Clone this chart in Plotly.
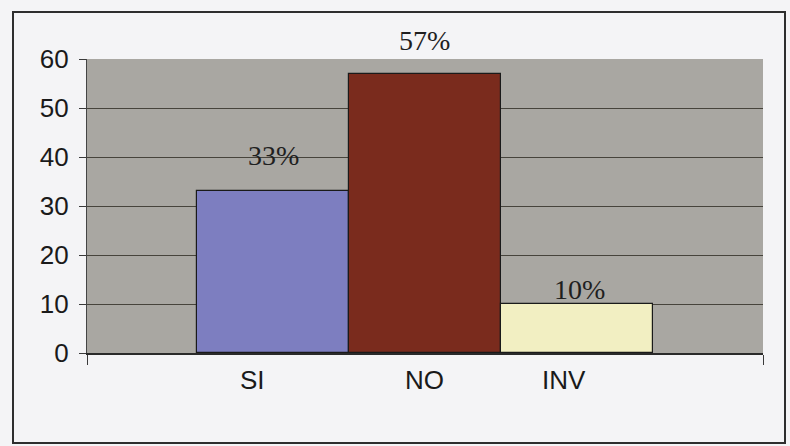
import plotly.graph_objects as go

# Survey answers and their shares (%)
categories = ["SI", "NO", "INV"]
values = [33, 57, 10]
bar_colors = ["#7d7ec0", "#7a2b1d", "#f2efc2"]
y_ticks = [0, 10, 20, 30, 40, 50, 60]

x_pos = list(range(len(categories)))
x_range = [-1.224, 3.224]

fig = go.Figure()
fig.add_trace(go.Bar(
    x=x_pos,
    y=values,
    width=1.0,
    marker=dict(color=bar_colors, line=dict(color="#1a1a1a", width=1.2)),
    hoverinfo="skip",
))

# Percentage labels above each bar (serif, as in the printed report)
label_shift = [(0, 36), (-1, 33), (3, 15)]
for i, (v, (dx, dy)) in enumerate(zip(values, label_shift)):
    fig.add_annotation(
        x=x_pos[i], y=v, text=f"{v}%", showarrow=False,
        xanchor="center", yanchor="middle", xshift=dx, yshift=dy,
        font=dict(family="Liberation Serif, Times New Roman, serif", size=28, color="#1f1f1f"),
    )

# Category names under the bars
name_shift = [-21, -1, -13]
for i, (name, dx) in enumerate(zip(categories, name_shift)):
    fig.add_annotation(
        x=x_pos[i], y=0, text=name, showarrow=False,
        xanchor="center", yanchor="middle", xshift=dx, yshift=-27,
        font=dict(family="Liberation Sans, Arial, sans-serif", size=26, color="#1a1a1a"),
    )

# Outer chart frame
pw, ph = 676, 294
fig.add_shape(
    type="rect", xref="paper", yref="paper",
    x0=(13 - 87) / pw, x1=(785 - 87) / pw,
    y0=(353 - 443) / ph, y1=(353 - 12) / ph,
    line=dict(color="#2e2e2e", width=2), fillcolor="rgba(0,0,0,0)", layer="below",
)

fig.update_layout(
    width=790, height=446,
    margin=dict(l=87, r=27, t=59, b=93),
    paper_bgcolor="#f4f4f6",
    plot_bgcolor="#a9a7a2",
    showlegend=False,
    bargap=0,
    xaxis=dict(
        range=x_range, tickmode="array", tickvals=x_range, ticktext=["", ""],
        ticks="outside", ticklen=10, tickcolor="#3a3a3a", tickwidth=1.2,
        showgrid=False, zeroline=False, showline=True, linecolor="#2a2a2a", linewidth=1.5,
    ),
    yaxis=dict(
        range=[0, 60], tickmode="array", tickvals=y_ticks,
        ticks="outside", ticklen=7, tickcolor="#3a3a3a", tickwidth=1.2,
        showgrid=True, gridcolor="#47443c", gridwidth=1.3,
        zeroline=False, showline=True, linecolor="#444444", linewidth=1.2,
        tickfont=dict(family="Liberation Sans, Arial, sans-serif", size=26, color="#1a1a1a"),
        ticklabelstandoff=5,
    ),
)

fig.write_html("out.html")
